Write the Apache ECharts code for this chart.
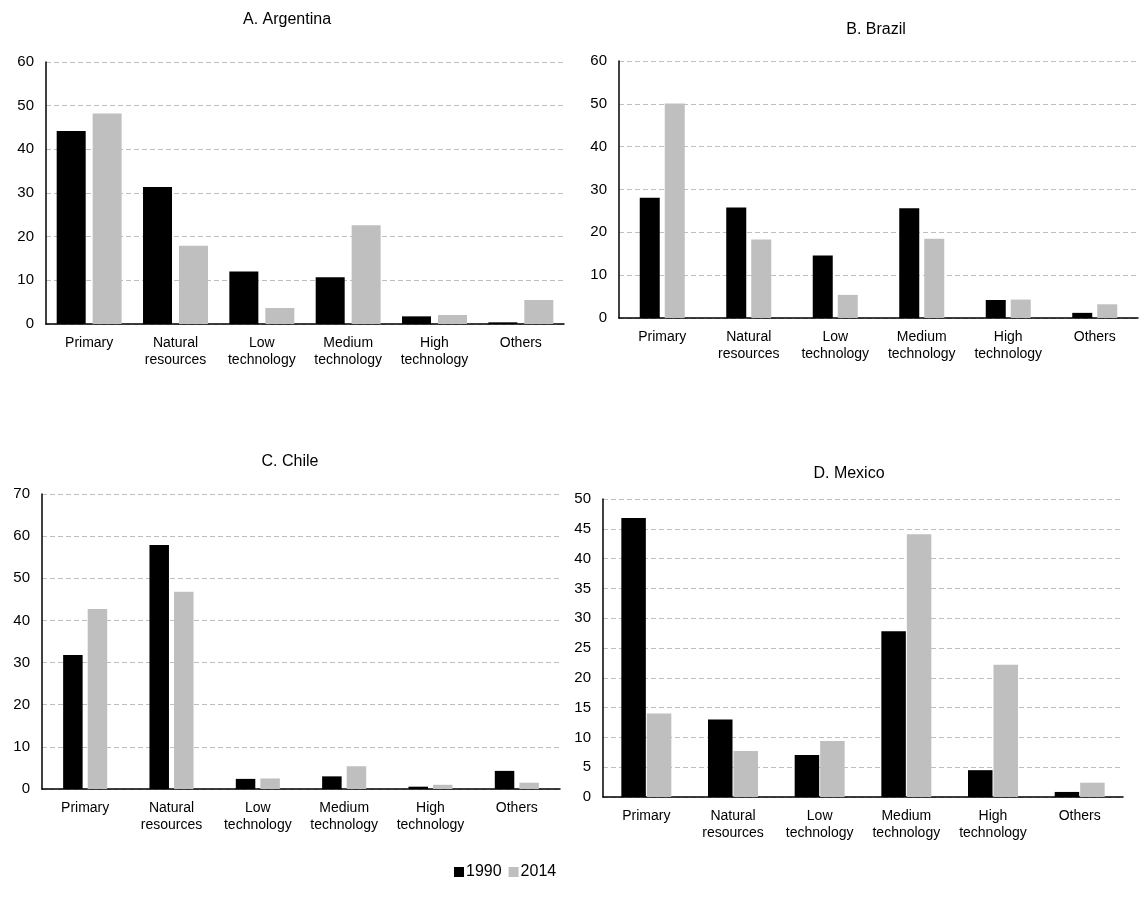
<!DOCTYPE html>
<html>
<head>
<meta charset="utf-8">
<script src="https://cdn.jsdelivr.net/npm/echarts@6/dist/echarts.min.js"></script>
<style>
  html, body { margin: 0; padding: 0; background: #fff; }
  #main { width: 1140px; height: 903px; }
</style>
</head>
<body>
<div id="main"></div>
<script>
// categories shared by all four panels
const categories = ['Primary', 'Natural\nresources', 'Low\ntechnology', 'Medium\ntechnology', 'High\ntechnology', 'Others'];

// export shares
const argentina1990 = [44.2, 31.4, 12.0, 10.7, 1.75, 0.38];
const argentina2014 = [48.2, 17.9, 3.66, 22.6, 2.06, 5.5];
const brazil1990 = [28.05, 25.8, 14.6, 25.6, 4.2, 1.2];
const brazil2014 = [50.1, 18.3, 5.4, 18.5, 4.3, 3.2];
const chile1990 = [31.8, 57.9, 2.4, 3.0, 0.55, 4.3];
const chile2014 = [42.7, 46.8, 2.5, 5.4, 1.0, 1.5];
const mexico1990 = [46.8, 13.0, 7.05, 27.8, 4.5, 0.85];
const mexico2014 = [14.0, 7.7, 9.4, 44.1, 22.2, 2.4];

const panelTitles = ['A. Argentina', 'B. Brazil', 'C. Chile', 'D. Mexico'];
const yMax = [60, 60, 70, 50];
const yStep = [10, 10, 10, 5];

const FONT = "'Liberation Sans', Arial, sans-serif";
const BLACK = '#000000';
const GREY = '#bfbfbf';

// layout of each panel (pixels)
const grids = [
  { left: 46, top: 62, width: 518, height: 262 },
  { left: 619, top: 61, width: 519, height: 257 },
  { left: 42, top: 494, width: 518, height: 295 },
  { left: 603, top: 499, width: 520, height: 298 }
];
const titlePos = [[287, 20], [876, 30], [290, 462], [849, 474]];
const barLayout = [
  { w: 29, gap: '24%' },
  { w: 20, gap: '25%' },
  { w: 19.5, gap: '26%' },
  { w: 24.5, gap: '4%' }
];
const seriesPairs = [
  [argentina1990, argentina2014],
  [brazil1990, brazil2014],
  [chile1990, chile2014],
  [mexico1990, mexico2014]
];

const chart = echarts.init(document.getElementById('main'));

const xAxes = grids.map((g, i) => ({
  type: 'category',
  gridIndex: i,
  data: categories,
  axisLine: { show: true, lineStyle: { color: BLACK, width: 1.5 } },
  axisTick: { show: false },
  axisLabel: {
    color: '#000', fontFamily: FONT, fontSize: 14, lineHeight: 17,
    margin: 11, interval: 0
  }
}));

const yAxes = grids.map((g, i) => ({
  type: 'value',
  gridIndex: i,
  min: 0,
  max: yMax[i],
  interval: yStep[i],
  axisLine: { show: true, lineStyle: { color: BLACK, width: 1.5 } },
  axisTick: { show: false },
  axisLabel: { color: '#000', fontFamily: FONT, fontSize: 15, margin: 12 },
  splitLine: { show: true, lineStyle: { color: '#bfbfbf', type: [5, 3], width: 1 } }
}));

const series = [];
seriesPairs.forEach((pair, i) => {
  series.push({
    name: '1990', type: 'bar', xAxisIndex: i, yAxisIndex: i,
    data: pair[0], barWidth: barLayout[i].w, barGap: barLayout[i].gap,
    itemStyle: { color: BLACK }, silent: true
  });
  series.push({
    name: '2014', type: 'bar', xAxisIndex: i, yAxisIndex: i,
    data: pair[1], barWidth: barLayout[i].w, barGap: barLayout[i].gap,
    itemStyle: { color: GREY }, silent: true
  });
});

const option = {
  backgroundColor: '#fff',
  animation: false,
  grid: grids,
  xAxis: xAxes,
  yAxis: yAxes,
  series: series,
  legend: {
    data: ['1990', '2014'],
    left: 449,
    top: 859,
    icon: 'rect',
    itemWidth: 10,
    itemHeight: 10,
    itemGap: 7,
    textStyle: { color: '#000', fontFamily: FONT, fontSize: 16, padding: [0, 0, 0, -3] },
    selectedMode: false
  },
  graphic: panelTitles.map((t, i) => ({
    type: 'text',
    x: titlePos[i][0],
    y: titlePos[i][1],
    style: {
      text: t, fill: '#000', font: '16px ' + FONT,
      align: 'center', verticalAlign: 'middle'
    }
  }))
};

chart.setOption(option);
</script>
</body>
</html>
